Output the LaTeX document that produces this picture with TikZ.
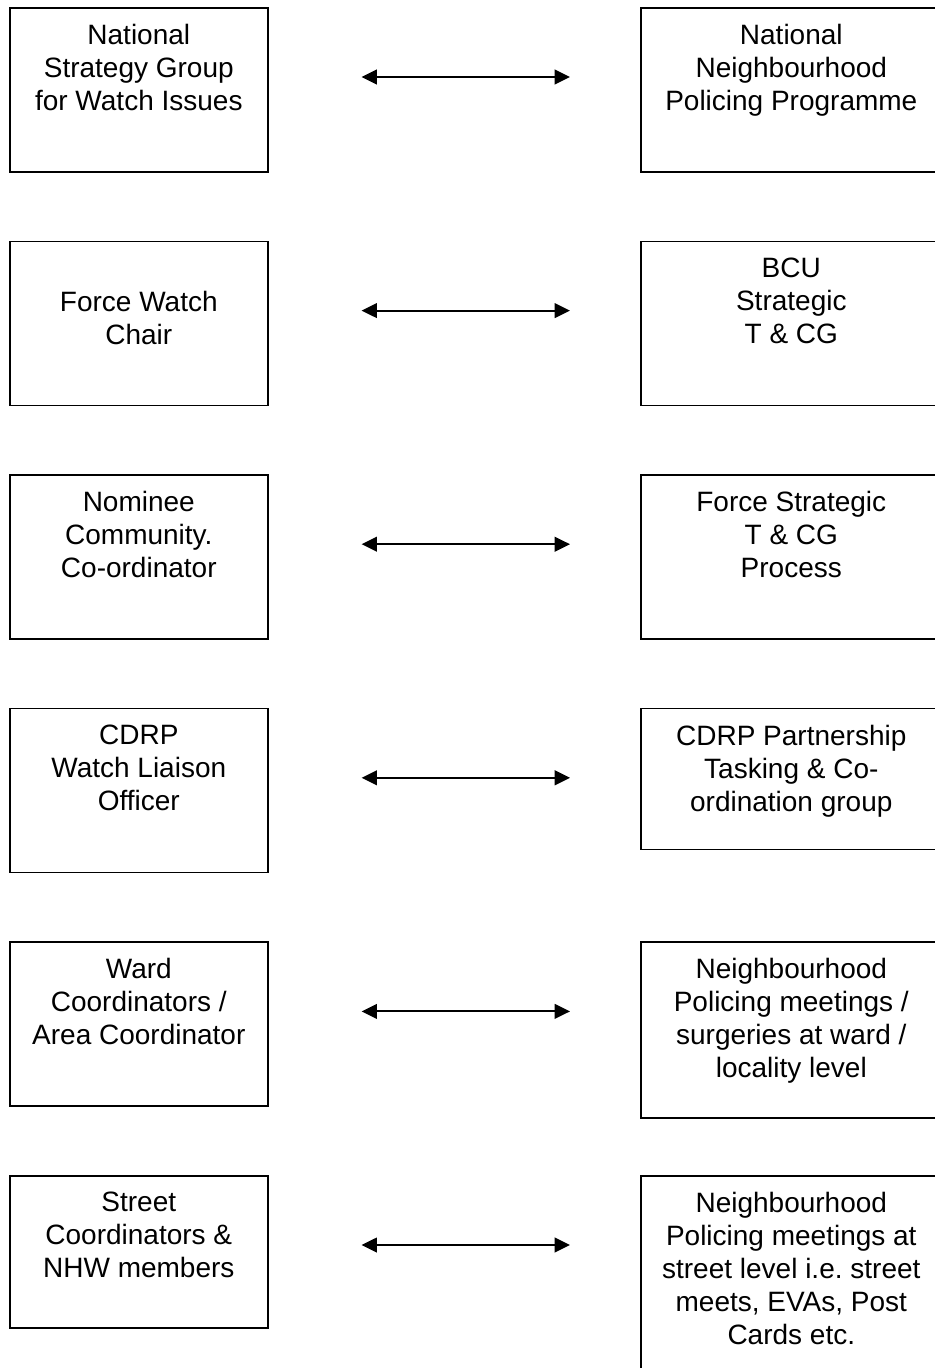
\documentclass[tikz,border=0pt]{standalone}
\usepackage{fontspec}
\setmainfont{Liberation Sans}
\frenchspacing
\usetikzlibrary{arrows.meta,positioning,calc}
\tikzset{
  box/.style={draw, line width=1.2pt, minimum width=193.5pt, inner sep=0pt, anchor=north west},
  rbox/.style={box, minimum width=225.75pt},
  boxtext/.style={anchor=north, inner sep=0pt, yshift=-12.75pt, align=center,
    font=\fontsize{21}{24.75}\selectfont},
  link/.style={{Triangle[length=11.5pt,width=11pt]}-{Triangle[length=11.5pt,width=11pt]},
    line width=1.5pt, shorten <=69.75pt, shorten >=52.5pt},
}

\begin{document}
\begin{tikzpicture}[x=0.75pt,y=-0.75pt]
      \useasboundingbox (0,0) rectangle (935,1368);
      \begin{scope}
        % watch side
        \node[box, minimum height=123pt, label={[boxtext]north:{National\\Strategy Group\\for Watch Issues}}] (watch1) at (9,7) {};
        \node[box, minimum height=123pt, label={[boxtext, yshift=-24.75pt]north:{Force Watch\\Chair}}] (watch2) at (9,240.6) {};
        \node[box, minimum height=123pt, label={[boxtext]north:{Nominee\\Community.\\Co-ordinator}}] (watch3) at (9,474.2) {};
        \node[box, minimum height=123pt, label={[boxtext]north:{CDRP\\Watch Liaison\\Officer}}] (watch4) at (9,707.8) {};
        \node[box, minimum height=123pt, label={[boxtext]north:{Ward\\Coordinators /\\Area Coordinator}}] (watch5) at (9,941.4) {};
        \node[box, minimum height=114pt, label={[boxtext]north:{Street\\Coordinators \&\\NHW members}}] (watch6) at (9,1175) {};
      \end{scope}
      \begin{scope}
        % policing side
        \node[rbox, minimum height=123pt, label={[boxtext]north:{National\\Neighbourhood\\Policing Programme}}] (police1) at (640,7) {};
        \node[rbox, minimum height=123pt, label={[boxtext]north:{BCU\\Strategic\\T \& CG}}] (police2) at (640,240.6) {};
        \node[rbox, minimum height=123pt, label={[boxtext]north:{Force Strategic\\T \& CG\\Process}}] (police3) at (640,474.2) {};
        \node[rbox, minimum height=105.75pt, label={[boxtext]north:{CDRP Partnership\\Tasking \& Co-\\ordination group}}] (police4) at (640,707.8) {};
        \node[rbox, minimum height=132pt, label={[boxtext]north:{Neighbourhood\\Policing meetings /\\surgeries at ward /\\locality level}}] (police5) at (640,941.4) {};
        \node[rbox, minimum height=165pt, label={[boxtext]north:{Neighbourhood\\Policing meetings at\\street level i.e. street\\meets, EVAs, Post\\Cards etc.}}] (police6) at (640,1175) {};
      \end{scope}
      \begin{scope}
        \draw[link] ($(watch1.north east)+(0,70)$) -- ($(police1.north west)+(0,70)$);
        \draw[link] ($(watch2.north east)+(0,70)$) -- ($(police2.north west)+(0,70)$);
        \draw[link] ($(watch3.north east)+(0,70)$) -- ($(police3.north west)+(0,70)$);
        \draw[link] ($(watch4.north east)+(0,70)$) -- ($(police4.north west)+(0,70)$);
        \draw[link] ($(watch5.north east)+(0,70)$) -- ($(police5.north west)+(0,70)$);
        \draw[link] ($(watch6.north east)+(0,70)$) -- ($(police6.north west)+(0,70)$);
      \end{scope}
\end{tikzpicture}
\end{document}
